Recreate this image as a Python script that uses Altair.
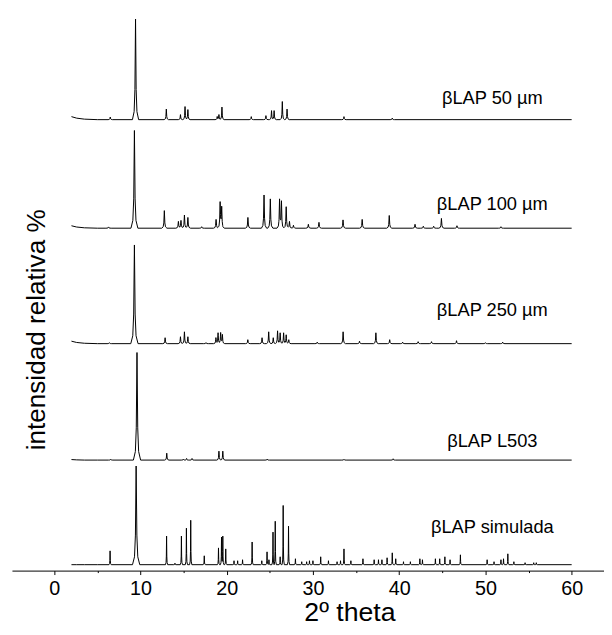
import altair as alt
import numpy as np
import pandas as pd

# ---------------- data ----------------
SERIES = ["βLAP simulada", "βLAP L503", "βLAP 250 µm", "βLAP 100 µm", "βLAP 50 µm"]
OFFSETS = [6, 112, 230, 347, 457]          # vertical stacking offsets
SCALES = [1.00, 1.09, 1.00, 0.99, 1.02]    # drawn height of 100 %
LABEL_X = [50.8, 50.8, 50.8, 50.8, 50.8]
LABEL_Y = [44, 131, 264, 371, 479]

SIM_POS = [6.48, 9.5, 13.03, 14.0, 14.75, 15.33, 15.83, 17.4, 19.05, 19.4, 19.55, 19.89,
           20.85, 21.27, 21.84, 22.95, 24.07, 24.68, 24.9, 25.37, 25.63, 26.2, 26.55, 27.17,
           27.97, 28.7, 29.27, 29.6, 30.0, 30.9, 31.8, 32.8, 33.2, 33.6, 34.4, 35.8, 37.1,
           37.6, 38.0, 38.6, 39.2, 39.6, 40.5, 41.3, 42.4, 42.7, 44.2, 44.7, 45.3, 45.9, 47.1,
           50.2, 51.0, 51.8, 52.1, 52.6, 53.3, 54.6, 55.6, 55.9]
SIM_H = [14, 100, 29, 1.5, 29, 37, 45, 9, 17, 28, 29, 16, 4, 4, 5, 23, 4, 13, 5, 33, 44, 8,
         60, 39, 6, 3, 3, 4, 4, 8, 4, 3, 4, 16, 4, 6, 5, 5, 5, 7, 12, 6, 3, 3, 6, 5, 6, 6, 8,
         5, 10, 5, 3, 5, 6, 11, 3, 2, 2, 2]

L503_POS = [6.55, 9.6, 13.05, 14.98, 15.35, 15.98, 19.1, 19.55, 24.7, 33.6, 39.3]
L503_H = [0.8, 100, 6.4, 1, 1.5, 1.5, 8.3, 8.3, 1, 0.7, 1.2]

P250_POS = [6.4, 9.3, 12.86, 14.64, 15.1, 15.5, 17.6, 18.75, 19.0, 19.3, 19.5, 22.45, 24.1,
            24.87, 25.4, 25.9, 26.2, 26.6, 26.9, 27.2, 30.5, 33.5, 35.4, 37.3, 38.9, 40.4,
            42.2, 43.75, 46.65, 50.0, 52.0]
P250_H = [1, 100, 6, 7, 12, 7, 1, 6, 11, 11, 9, 4, 6, 12, 6, 13, 11, 11, 9, 4, 1.5, 12, 2.5,
          11, 4, 1.5, 2, 2, 3, 1, 1.5]

P100_POS = [6.3, 9.3, 12.77, 14.4, 14.7, 15.1, 15.5, 17.1, 18.77, 19.24, 19.42, 22.46, 24.33,
            25.06, 26.13, 26.35, 26.9, 27.28, 27.74, 29.47, 30.7, 33.49, 35.71, 38.85, 41.84,
            42.8, 44.0, 44.9, 46.7, 51.8]
P100_H = [1.3, 100, 18, 7, 8, 13.5, 11, 1.5, 9, 26, 21, 11, 34, 30, 29, 27, 22, 7, 3, 4, 6,
          8.5, 9, 13, 4, 2, 2, 10, 2.5, 1.5]

P50_POS = [6.5, 9.43, 13.0, 14.64, 15.17, 15.5, 18.9, 19.1, 19.45, 22.85, 24.55, 25.2, 25.5,
           26.45, 27.0, 33.6, 39.2]
P50_H = [2.6, 100, 10.5, 5, 13, 10, 3, 5, 12.5, 3, 4, 9, 9, 18, 10.5, 3, 1.5]

# peak half-widths (main peak, other peaks) in degrees 2-theta
WIDTHS = [(0.42, 0.13), (0.42, 0.25), (0.42, 0.27), (0.4, 0.3), (0.36, 0.25)]
# low-angle background at the start of each scan
BG_X = [2.0, 2.6, 3.5, 5.0, 60.0]
BG = [[0, 0, 0, 0, 0], [0.5, 0.2, 0, 0, 0], [2.5, 1.2, 0.4, 0, 0],
      [2.5, 1.2, 0.4, 0, 0], [3.0, 1.5, 0.5, 0, 0]]

PEAKS = [(SIM_POS, SIM_H), (L503_POS, L503_H), (P250_POS, P250_H),
         (P100_POS, P100_H), (P50_POS, P50_H)]

# peak outline template (relative units)
PROF_X = [-1.0, -0.45, -0.2, 0.0, 0.2, 0.45, 1.0]
PROF_Y = [0.0, 0.08, 0.3, 1.0, 0.3, 0.08, 0.0]

rows = []
for k, name in enumerate(SERIES):
    pos, hts = PEAKS[k]
    wmain, wpk = WIDTHS[k]
    xs = set(BG_X)
    profs = []
    for p, h in zip(pos, hts):
        w = wmain if h == 100 else wpk
        px = p + w * np.array(PROF_X)
        py = h * np.array(PROF_Y)
        profs.append((px, py))
        xs.update(px.tolist())
    xs = np.array(sorted(x for x in xs if 2.0 <= x <= 60.0))
    ys = np.interp(xs, BG_X, BG[k])
    for px, py in profs:
        ys = ys + np.interp(xs, px, py, left=0, right=0)
    for x, y in zip(xs, ys):
        rows.append({"x": float(x), "y": OFFSETS[k] + SCALES[k] * float(y), "series": name})

df = pd.DataFrame(rows)
labels = pd.DataFrame({"x": LABEL_X, "y": LABEL_Y, "text": SERIES})
ytitle = pd.DataFrame({"t": ["intensidad relativa %"]})

XTICKS = [-5, 0, 5, 10, 15, 20, 25, 30, 35, 40, 45, 50, 55, 60]

xscale = alt.Scale(domain=[-4.9, 63.75], nice=False, zero=False)
yscale = alt.Scale(domain=[0, 566], nice=False, zero=False)

lines = alt.Chart(df).mark_line(color="black", strokeWidth=1).encode(
    x=alt.X("x:Q", scale=xscale, axis=alt.Axis(
        values=XTICKS,
        labelExpr="datum.value % 10 === 0 ? datum.label : ''",
        tickSize={"condition": {"test": "datum.value % 10 === 0", "value": 4}, "value": 2},
        title="2º theta", titleFontSize=27, titleFontWeight="normal", titlePadding=2,
        titleX=342,
        labelFontSize=20, labelPadding=4, grid=False,
    )),
    y=alt.Y("y:Q", scale=yscale, axis=None),
    detail="series:N",
)

text = alt.Chart(labels).mark_text(fontSize=18.5, font="Liberation Sans", color="black",
                                   align="center", baseline="middle").encode(
    x=alt.X("x:Q", scale=xscale), y=alt.Y("y:Q", scale=yscale), text="text:N")

yt = alt.Chart(ytitle).mark_text(fontSize=26.5, font="Liberation Sans", color="black",
                                 angle=270, align="center", baseline="middle").encode(
    x=alt.value(25), y=alt.value(322), text="t:N")

chart = alt.layer(lines, text, yt).properties(
    width=600, height=566,
    autosize=alt.AutoSizeParams(type="none"),
    padding={"left": 4, "top": 0, "right": 0, "bottom": 53},
).configure_view(stroke=None).configure_axis(
    domainColor="black", tickColor="black", labelColor="black", titleColor="black",
    labelFont="Liberation Sans", titleFont="Liberation Sans", domainWidth=1, tickWidth=1,
)

chart.save("out.html", embed_options={"renderer": "svg", "actions": False})
